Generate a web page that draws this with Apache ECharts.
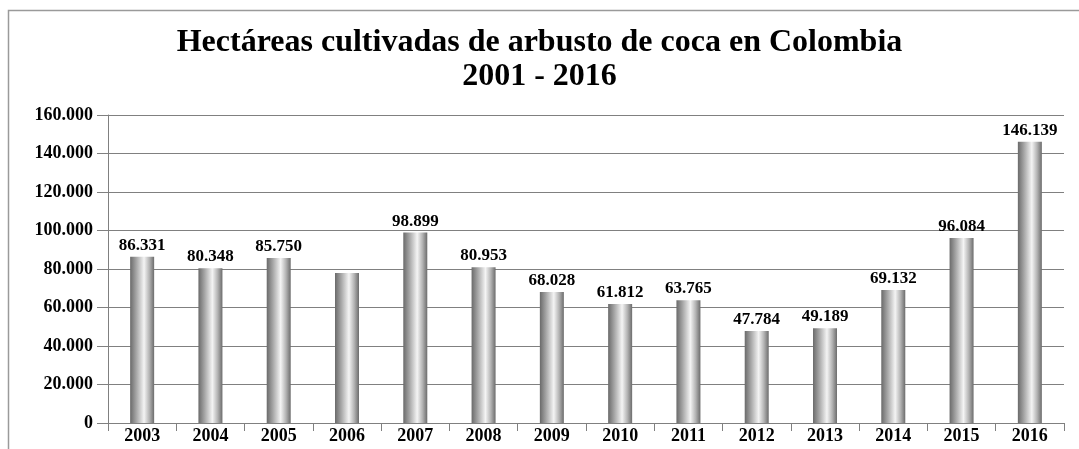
<!DOCTYPE html>
<html>
<head>
<meta charset="utf-8">
<script src="https://cdn.jsdelivr.net/npm/echarts@6/dist/echarts.min.js"></script>
<style>
html,body{margin:0;padding:0;background:#fff;}
#c{width:1079px;height:449px;}
</style>
</head>
<body>
<div id="c"></div>
<script>
const titleLine1 = 'Hectáreas cultivadas de arbusto de coca en Colombia';
const titleLine2 = '2001 - 2016';
const years = ['2003','2004','2005','2006','2007','2008','2009','2010','2011','2012','2013','2014','2015','2016'];
const hectares = [86331, 80348, 85750, 77870, 98899, 80953, 68028, 61812, 63765, 47784, 49189, 69132, 96084, 146139];
const hiddenLabels = ['2006'];

const serif = '"Liberation Serif", "DejaVu Serif", serif';
const chart = echarts.init(document.getElementById('c'));

function fmt(v){
  return String(v).replace(/\B(?=(\d{3})+(?!\d))/g, '.');
}

const barGradient = new echarts.graphic.LinearGradient(0,0,1,0,[
  {offset:0, color:'#6a6a6a'},
  {offset:0.25, color:'#a4a4a4'},
  {offset:0.58, color:'#f4f4f4'},
  {offset:0.8, color:'#b4b4b4'},
  {offset:1, color:'#6c6c6c'}
]);

chart.setOption({
  backgroundColor:'#ffffff',
  animation:false,
  graphic:[{
    type:'rect', silent:true,
    shape:{x:8.5, y:10.5, width:1200, height:600},
    style:{fill:'none', stroke:'#9a9a9a', lineWidth:1.5}
  }],
  title:{
    text: titleLine1 + '\n' + titleLine2,
    left:'center', top:21,
    textStyle:{fontFamily:serif, fontWeight:'bold', fontSize:32, lineHeight:34, color:'#000'}
  },
  grid:{left:108, right:15, top:115, bottom:26, containLabel:false},
  xAxis:{
    type:'category',
    data: years,
    axisLine:{show:true, lineStyle:{color:'#808080', width:1}},
    axisTick:{show:true, length:8, lineStyle:{color:'#808080'}},
    axisLabel:{fontFamily:serif, fontWeight:'bold', fontSize:18, color:'#000', margin:4}
  },
  yAxis:{
    type:'value', min:0, max:160000, interval:20000,
    axisLine:{show:true, lineStyle:{color:'#808080', width:1}},
    axisTick:{show:true, length:11, lineStyle:{color:'#808080'}},
    splitLine:{show:true, lineStyle:{color:'#808080', width:1}},
    axisLabel:{fontFamily:serif, fontWeight:'bold', fontSize:18, color:'#000', margin:15, formatter: v => fmt(v)}
  },
  series:[{
    type:'bar',
    barWidth:24,
    data: hectares.map((v,i) => hiddenLabels.includes(years[i]) ? {value:v, label:{show:false}} : v),
    itemStyle:{color: barGradient},
    label:{
      show:true, position:'top', distance:3,
      fontFamily:serif, fontWeight:'bold', fontSize:17, color:'#000',
      formatter: p => fmt(p.value)
    }
  }]
});
</script>
</body>
</html>
